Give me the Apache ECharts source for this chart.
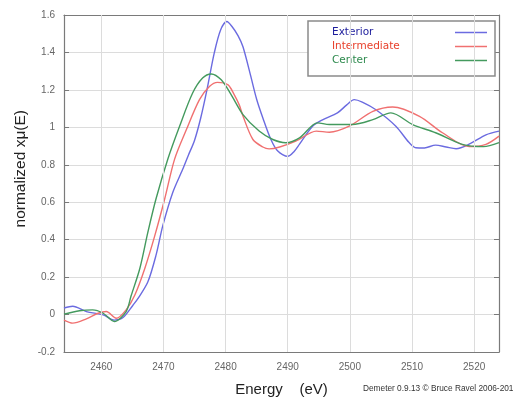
<!DOCTYPE html>
<html><head><meta charset="utf-8">
<script src="https://cdn.jsdelivr.net/npm/echarts@6/dist/echarts.min.js"></script>
<style>html,body{margin:0;padding:0;background:#fff}#c{width:520px;height:402px}</style>
</head><body><div id="c"></div>
<script>
const xTicks = [2460, 2470, 2480, 2490, 2500, 2510, 2520];
const seriesNames = ['Exterior', 'Intermediate', 'Center'];
const exterior = [
  [2454,0.035],[2455.4,0.044],[2457.6,0.016],[2460.3,-0.002],[2462.1,-0.03],[2463.5,-0.016],
  [2465.1,0.05],[2466.0,0.09],[2467.5,0.175],[2468.8,0.316],[2469.9,0.475],[2471.5,0.652],
  [2473.1,0.776],[2474.0,0.85],[2475.0,0.93],[2476.0,1.05],[2477.0,1.2],
  [2478.2,1.40],[2479.2,1.52],[2480.2,1.565],[2481.0,1.54],[2482.0,1.49],[2482.8,1.43],
  [2484.0,1.28],[2485.0,1.15],[2486.0,1.05],[2487.3,0.935],[2488.4,0.873],[2490.0,0.845],
  [2491.0,0.87],[2491.9,0.91],[2494.0,1.006],[2495.6,1.04],[2498.0,1.077],[2499.5,1.12],
  [2500.7,1.148],[2502.0,1.135],[2504.2,1.094],[2507.4,1.006],[2509.5,0.92],[2510.6,0.891],
  [2512.0,0.89],[2513.8,0.905],[2515.5,0.895],[2517.1,0.886],[2519.2,0.91],[2521.9,0.96],[2524,0.98]
];
const intermediate = [
  [2454,-0.03],[2455.4,-0.046],[2457.6,-0.023],[2459.5,0.007],[2460.8,0.016],[2462.4,-0.02],
  [2464.0,0.025],[2465.4,0.104],[2467.0,0.246],[2468.6,0.42],[2470.2,0.617],[2471.8,0.83],
  [2473.7,0.988],[2475.8,1.148],[2477.4,1.218],[2478.7,1.24],[2480.4,1.227],[2481.3,1.18],
  [2482.2,1.12],[2482.8,1.06],[2484.4,0.935],[2486.0,0.895],[2487.0,0.885],[2488.7,0.895],
  [2491.3,0.926],[2494.6,0.98],[2496.7,0.974],[2499.9,1.006],[2503.7,1.085],[2506.9,1.109],
  [2511.2,1.059],[2514.9,0.971],[2519.2,0.897],[2521.9,0.909],[2524,0.953]
];
const center = [
  [2454,0.002],[2456.5,0.02],[2458.6,0.025],[2460.3,0.007],[2462.1,-0.037],[2464.0,0.016],
  [2464.8,0.1],[2466.2,0.246],[2467.5,0.44],[2468.8,0.617],[2470.7,0.83],[2472.6,1.006],
  [2474.7,1.183],[2476.3,1.263],[2477.7,1.285],[2479.3,1.254],[2480.8,1.18],[2482.8,1.068],
  [2485.4,0.98],[2487.6,0.935],[2489.7,0.918],[2491.9,0.944],[2494.8,1.024],[2496.7,1.015],
  [2500.4,1.015],[2503.7,1.041],[2506.6,1.077],[2510.1,1.015],[2513.8,0.971],[2518.1,0.909],
  [2521.5,0.897],[2524,0.918]
];
const lineColors = ['#6b6be0', '#f07070', '#449a5e'];
const textColors = ['#1c1c9c', '#e8402c', '#2e8a4e'];

const chart = echarts.init(document.getElementById('c'));
const gridColor = '#dcdcdc', frame = '#7a7a7a';
const datasets = [exterior, intermediate, center];
const series = datasets.map((d, i) => ({
  name: seriesNames[i], type: 'line', data: d, smooth: 0.3, showSymbol: false,
  lineStyle: { color: lineColors[i], width: 1.4 }, itemStyle: { color: lineColors[i] },
  z: 3
}));
series[0].markLine = {
  silent: true, symbol: 'none', label: { show: false }, animation: false,
  lineStyle: { color: gridColor, type: 'solid', width: 1 },
  data: xTicks.map(v => ({ xAxis: v }))
};
chart.setOption({
  animation: false,
  backgroundColor: '#fff',
  grid: { left: 64, top: 15, right: 21, bottom: 48 },
  legend: {
    orient: 'vertical', left: 308, top: 21, align: 'right',
    padding: [5, 8, 9, 24], itemGap: 1, itemWidth: 32, itemHeight: 1.5, icon: 'rect',
    borderColor: '#8a8a8a', borderWidth: 1.5, backgroundColor: '#fff',
    formatter: n => '{t|' + n + '}',
    data: seriesNames.map((n, i) => ({ name: n, textStyle: { color: textColors[i],
      rich: { t: { color: textColors[i], width: 118, align: 'left', fontFamily: 'DejaVu Sans', fontSize: 10.5, lineHeight: 13 } } } })),
    textStyle: { fontFamily: 'DejaVu Sans', fontSize: 10.5, lineHeight: 13 }
  },
  xAxis: [{
    type: 'value', min: 2454, max: 2524, position: 'bottom',
    axisLine: { show: true, onZero: false, lineStyle: { color: frame, width: 1.2 } },
    axisTick: { show: true, inside: true, length: 5, customValues: xTicks, lineStyle: { color: frame } },
    axisLabel: { customValues: xTicks, color: '#666', fontFamily: 'Liberation Sans', fontSize: 10, margin: 10,
      formatter: v => String(v) },
    splitLine: { show: false },
    name: 'Energy    (eV)', nameLocation: 'middle', nameGap: 30,
    nameTextStyle: { fontFamily: 'Liberation Sans', fontSize: 15, color: '#222' }
  }, {
    type: 'value', min: 2454, max: 2524, position: 'top',
    axisLine: { show: true, onZero: false, lineStyle: { color: frame, width: 1.2 } },
    axisTick: { show: true, inside: true, length: 5, customValues: xTicks, lineStyle: { color: frame } },
    axisLabel: { show: false }, splitLine: { show: false }
  }],
  yAxis: [{
    type: 'value', min: -0.2, max: 1.6, interval: 0.2, position: 'left',
    axisLine: { show: true, onZero: false, lineStyle: { color: frame, width: 1.2 } },
    axisTick: { show: true, inside: true, length: 5, lineStyle: { color: frame } },
    axisLabel: { color: '#666', fontFamily: 'Liberation Sans', fontSize: 10, margin: 9,
      formatter: v => String(Math.round(v * 10) / 10) },
    splitLine: { show: true, lineStyle: { color: gridColor, width: 1 } }
  }, {
    type: 'value', min: -0.2, max: 1.6, interval: 0.2, position: 'right',
    axisLine: { show: true, onZero: false, lineStyle: { color: frame, width: 1.2 } },
    axisTick: { show: true, inside: true, length: 5, lineStyle: { color: frame } },
    axisLabel: { show: false }, splitLine: { show: false }
  }],
  graphic: [
    { type: 'text', left: 13, top: 110, rotation: Math.PI / 2,
      style: { text: 'normalized xμ(E)', font: '15.5px "Liberation Sans"', fill: '#222' } },
    { type: 'text', left: 363, top: 385,
      style: { text: 'Demeter 0.9.13 © Bruce Ravel 2006-201', font: '8.3px "Liberation Sans"', fill: '#333' } }
  ],
  series: series
});
</script></body></html>
